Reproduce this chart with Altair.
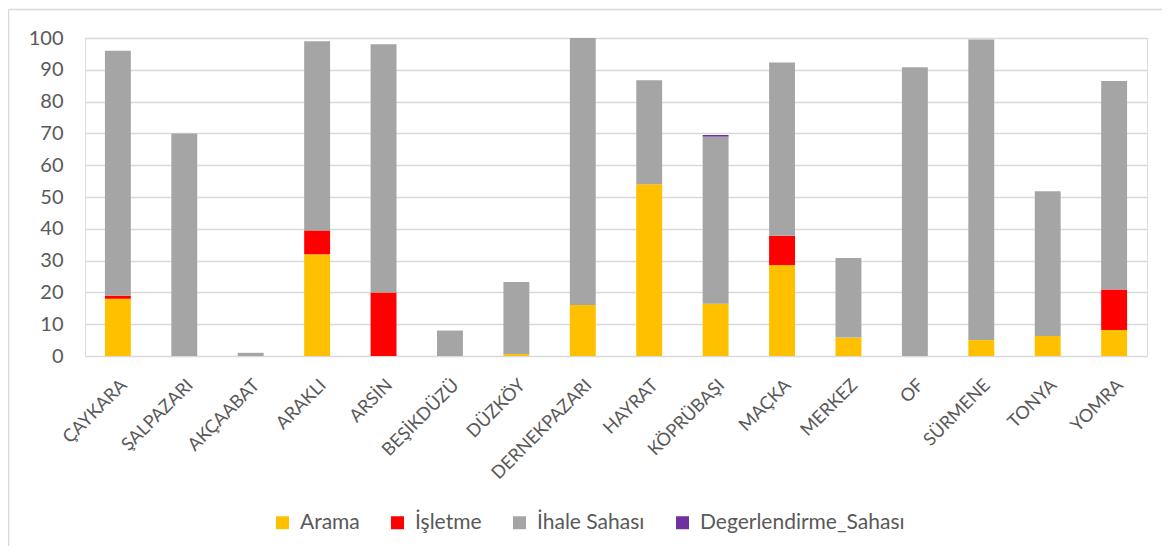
import altair as alt
import pandas as pd

districts = ["ÇAYKARA", "ŞALPAZARI", "AKÇAABAT", "ARAKLI", "ARSİN", "BEŞİKDÜZÜ",
             "DÜZKÖY", "DERNEKPAZARI", "HAYRAT", "KÖPRÜBAŞI", "MAÇKA", "MERKEZ",
             "OF", "SÜRMENE", "TONYA", "YOMRA"]
arama = [18, 0, 0, 32, 0, 0, 0.6, 16, 54, 16.4, 28.6, 5.8, 0, 5, 6.3, 8.2]
isletme = [1, 0, 0, 7.5, 20, 0, 0, 0, 0, 0, 9.2, 0, 0, 0, 0, 12.7]
ihale = [77, 70, 1, 59.5, 78, 8, 22.7, 84, 32.7, 52.6, 54.5, 25, 90.8, 94.5, 45.5, 65.6]
degerlendirme = [0, 0, 0, 0, 0, 0, 0, 0, 0, 0.5, 0, 0, 0, 0, 0, 0]

series = ["Arama", "İşletme", "İhale Sahası", "Degerlendirme_Sahası"]
colors = ["#FFC000", "#FF0000", "#A5A5A5", "#7030A0"]
y_ticks = [0, 10, 20, 30, 40, 50, 60, 70, 80, 90, 100]

rows = []
for name, vals in zip(series, [arama, isletme, ihale, degerlendirme]):
    for d, v in zip(districts, vals):
        rows.append({"İlçe": d, "Tür": name, "Değer": v, "sira": series.index(name)})
df = pd.DataFrame(rows)

FONT = "Lato"
TXT = "#595959"
W, H = 1062, 318

bars = alt.Chart(df).mark_bar(stroke=None).encode(
    x=alt.X("İlçe:N", sort=districts, title=None,
            scale=alt.Scale(paddingInner=0.61, paddingOuter=0.3),
            axis=alt.Axis(labelAngle=-45, labelFontSize=18, labelColor=TXT,
                          labelFont=FONT, labelPadding=20, ticks=False,
                          domain=False, grid=False, labelLimit=300)),
    y=alt.Y("Değer:Q", stack="zero", title=None,
            scale=alt.Scale(domain=[0, 100], nice=False),
            axis=alt.Axis(values=y_ticks, labelFontSize=20, labelColor=TXT,
                          labelFont=FONT, labelPadding=22, ticks=False,
                          domain=False, gridColor="#D9D9D9", gridWidth=1.3)),
    color=alt.Color("Tür:N", sort=series,
                    scale=alt.Scale(domain=series, range=colors),
                    legend=alt.Legend(title=None, orient="none", direction="horizontal",
                                      legendX=187, legendY=474, symbolType="square",
                                      symbolSize=169, symbolStrokeWidth=0,
                                      labelFontSize=21, labelColor=TXT, labelFont=FONT,
                                      labelOffset=7, columnPadding=27, labelLimit=400)),
    order=alt.Order("sira:Q"),
)

frame_top = alt.Chart(pd.DataFrame({"k": [0]})).mark_rule(
    stroke="#D9D9D9", strokeWidth=1.5, clip=False
).encode(x=alt.value(-76.5), x2=alt.value(W + 60), y=alt.value(-28.5))

frame_left = alt.Chart(pd.DataFrame({"k": [0]})).mark_rule(
    stroke="#D9D9D9", strokeWidth=1.5, clip=False
).encode(x=alt.value(-76.5), y=alt.value(-28.5), y2=alt.value(H + 260))

chart = alt.layer(frame_top, frame_left, bars).properties(
    width=W, height=H,
    autosize=alt.AutoSizeParams(type="none"),
    padding={"left": 77, "top": 30, "right": 15, "bottom": 190},
).configure_view(stroke=None).configure(font=FONT)

chart.save("out.html", embed_options={"renderer": "svg", "actions": False})
